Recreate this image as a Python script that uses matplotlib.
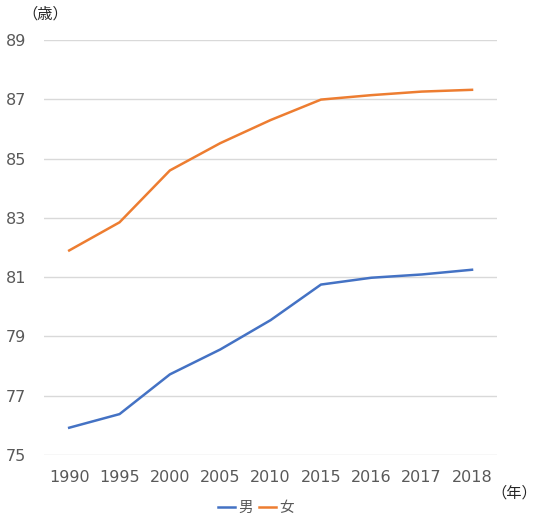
import matplotlib
matplotlib.use("Agg")
import matplotlib.pyplot as plt

plt.rcParams['font.family'] = ['Noto Sans CJK JP', 'DejaVu Sans']

years = ['1990', '1995', '2000', '2005', '2010', '2015', '2016', '2017', '2018']
male = [75.92, 76.38, 77.72, 78.56, 79.55, 80.75, 80.98, 81.09, 81.25]
female = [81.90, 82.85, 84.60, 85.52, 86.30, 86.99, 87.14, 87.26, 87.32]

fig = plt.figure(figsize=(5.5, 5.3), dpi=100)
ax = fig.add_axes([0.08, 0.1415, 0.824, 0.783])

x = range(len(years))
ax.plot(x, male, color='#4472C4', lw=1.8, label='男')
ax.plot(x, female, color='#ED7D31', lw=1.8, label='女')

ax.set_xlim(-0.5, len(years) - 0.5)
ax.set_ylim(75, 89)
ax.set_yticks(range(75, 90, 2))
ax.set_xticks(list(x))
ax.set_xticklabels(years)
ax.grid(axis='y', color='#D9D9D9', lw=1)
ax.set_axisbelow(True)
for s in ax.spines.values():
    s.set_visible(False)
ax.tick_params(length=0, labelsize=11.5, labelcolor='#595959')
for lab in ax.get_xticklabels() + ax.get_yticklabels():
    lab.set_family('DejaVu Sans')
ax.tick_params(axis='y', pad=13)
ax.tick_params(axis='x', pad=11)

fig.text(0.082, 0.973, '（歳）', fontsize=11, ha='center', va='center', color='#262626')
fig.text(0.935, 0.07, '（年）', fontsize=11, ha='center', va='center', color='#262626')

fig.legend(loc='center', bbox_to_anchor=(0.465, 0.041), ncol=2, frameon=False,
           fontsize=10.5, handlelength=1.2, handletextpad=0.2, columnspacing=0.4,
           labelcolor='#595959')

fig.savefig('out.png', dpi=100)
